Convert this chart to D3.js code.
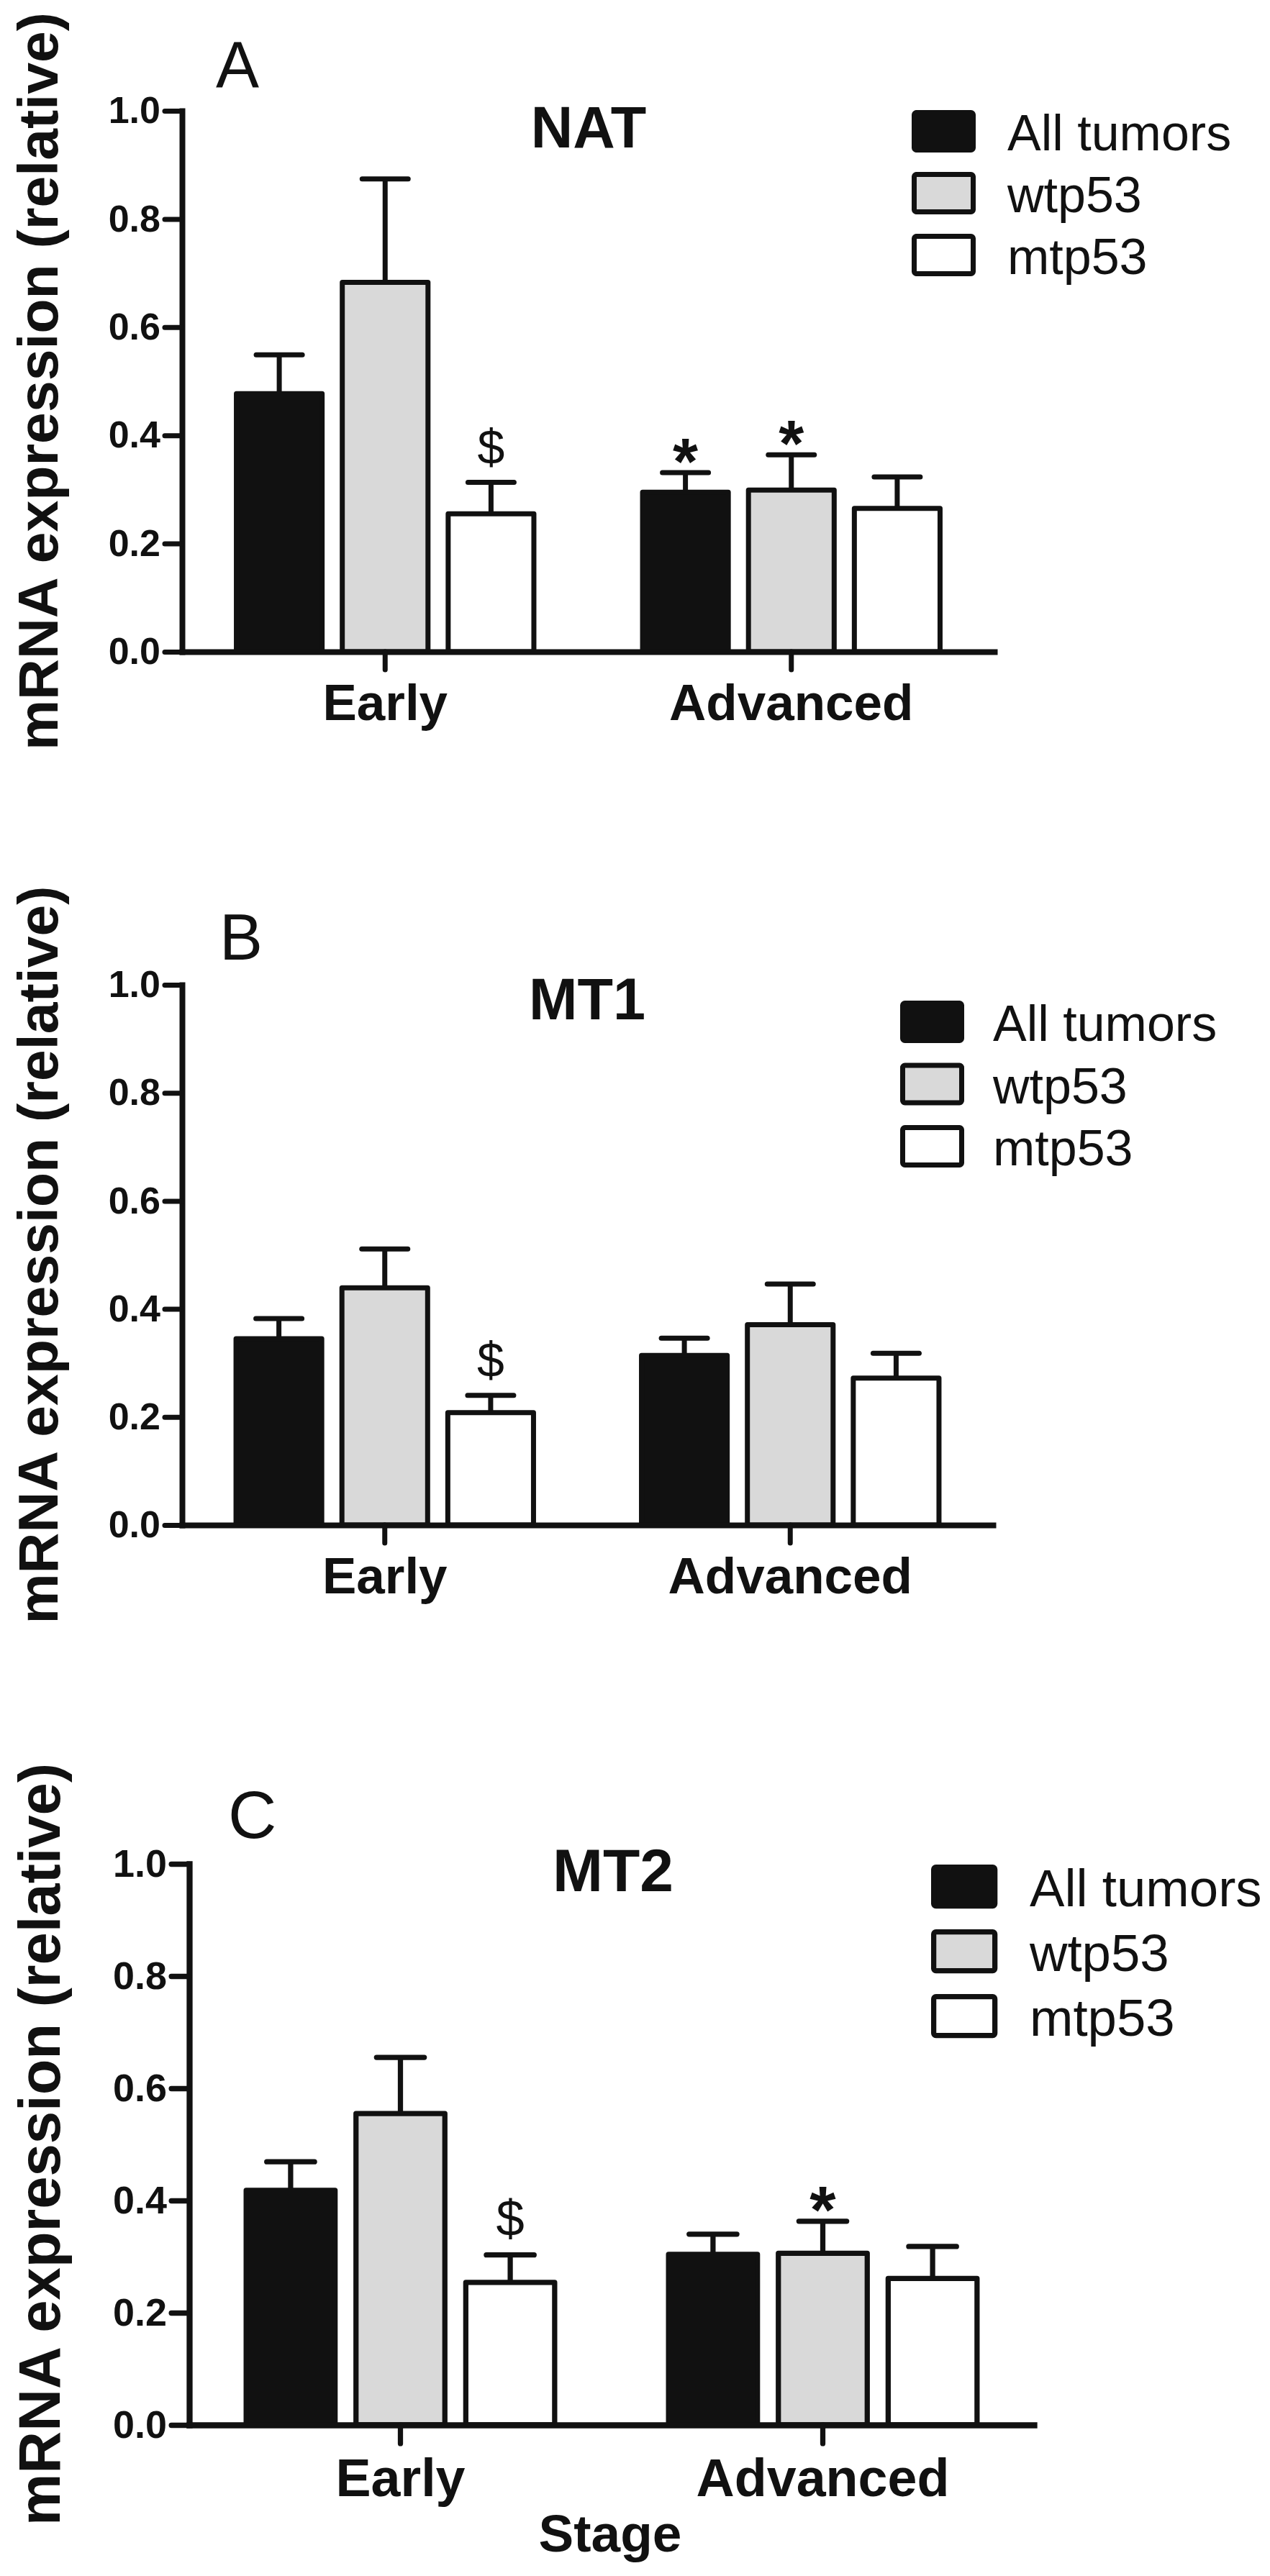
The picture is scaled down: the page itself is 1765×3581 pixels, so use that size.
<!DOCTYPE html>
<html>
<head>
<meta charset="utf-8">
<script src="https://cdn.jsdelivr.net/npm/d3@7"></script>
<style>
  body { margin: 0; background: #fff; }
  text { font-family: "Liberation Sans", Arial, sans-serif; fill: #111; }
</style>
</head>
<body>
<div id="chart"></div>
<script>
// categories and series
var stages = ["Early", "Advanced"];
var groups = ["All tumors", "wtp53", "mtp53"];
var yTicks = [0, 0.2, 0.4, 0.6, 0.8, 1.0];

// NAT (panel A): means and SEM, [Early, Advanced]
var natAll = [0.477, 0.295], natAllSem = [0.072, 0.036];
var natWt  = [0.683, 0.299], natWtSem  = [0.191, 0.065];
var natMt  = [0.255, 0.265], natMtSem  = [0.058, 0.058];
var natMarks = [["", "*"], ["", "*"], ["$", ""]];

// MT1 (panel B)
var mt1All = [0.345, 0.314], mt1AllSem = [0.037, 0.032];
var mt1Wt  = [0.439, 0.371], mt1WtSem  = [0.072, 0.075];
var mt1Mt  = [0.208, 0.272], mt1MtSem  = [0.032, 0.046];
var mt1Marks = [["", ""], ["", ""], ["$", ""]];

// MT2 (panel C)
var mt2All = [0.418, 0.304], mt2AllSem = [0.051, 0.036];
var mt2Wt  = [0.555, 0.306], mt2WtSem  = [0.100, 0.057];
var mt2Mt  = [0.254, 0.261], mt2MtSem  = [0.049, 0.057];
var mt2Marks = [["", ""], ["", "*"], ["$", ""]];

var fills = ["#111111", "#d9d9d9", "#ffffff"];

// layout of the three panels
var panels = [
  { letter: "A", title: "NAT", means: [natAll, natWt, natMt], sems: [natAllSem, natWtSem, natMtSem], marks: natMarks,
    x0: 253, x1: 1382, yTop: 154, yBot: 906, k: 1,
    letterX: 300, letterY: 121, titleX: 818, titleY: 205,
    legX: 1267, legY: 153, legPitch: 86, legTextX: 1400, labelX: 80, labelLen: 1026, stageLabel: false },
  { letter: "B", title: "MT1", means: [mt1All, mt1Wt, mt1Mt], sems: [mt1AllSem, mt1WtSem, mt1MtSem], marks: mt1Marks,
    x0: 253, x1: 1380, yTop: 1369, yBot: 2120, k: 1,
    letterX: 305, letterY: 1334, titleX: 816, titleY: 1417,
    legX: 1251, legY: 1391, legPitch: 86.5, legTextX: 1380, labelX: 80, labelLen: 1026, stageLabel: false },
  { letter: "C", title: "MT2", means: [mt2All, mt2Wt, mt2Mt], sems: [mt2AllSem, mt2WtSem, mt2MtSem], marks: mt2Marks,
    x0: 263, x1: 1437, yTop: 2591, yBot: 3371, k: 1.037,
    letterX: 317, letterY: 2555, titleX: 852, titleY: 2629,
    legX: 1294, legY: 2592, legPitch: 90, legTextX: 1431, labelX: 83, labelLen: 1060, stageLabel: true }
];

var svg = d3.select("#chart").append("svg")
    .attr("width", 1765)
    .attr("height", 3581);

svg.append("rect").attr("width", 1765).attr("height", 3581).attr("fill", "#fff");

function drawPanel(p) {
  var k = p.k;
  var sw = 7 * k;
  var g = svg.append("g");

  var y = d3.scaleLinear().domain([0, 1]).range([p.yBot, p.yTop]);
  var x = d3.scaleBand().domain(stages).range([p.x0, p.x1]).padding(0);
  var step = 147 * k;
  var xSub = d3.scaleBand().domain(groups)
      .range([-step * 1.5 + step * 0.07, step * 1.5 - step * 0.07])
      .paddingInner(0.143);

  // bars + error bars
  groups.forEach(function(grp, gi) {
    stages.forEach(function(st, si) {
      var m = p.means[gi][si];
      var e = m + p.sems[gi][si];
      var cx = x(st) + x.bandwidth() / 2;
      var bx = cx + xSub(grp);
      var bw = xSub.bandwidth();
      var mid = bx + bw / 2;

      // whisker (drawn first, bar covers the part inside)
      g.append("line")
        .attr("x1", mid).attr("x2", mid)
        .attr("y1", y(m)).attr("y2", y(e))
        .attr("stroke", "#111").attr("stroke-width", sw);
      g.append("line")
        .attr("x1", mid - 32 * k).attr("x2", mid + 32 * k)
        .attr("y1", y(e)).attr("y2", y(e))
        .attr("stroke", "#111").attr("stroke-width", sw)
        .attr("stroke-linecap", "round");

      g.append("rect")
        .attr("x", bx + sw / 2)
        .attr("y", y(m))
        .attr("width", bw - sw)
        .attr("height", y(0) - y(m))
        .attr("fill", fills[gi])
        .attr("stroke", "#111")
        .attr("stroke-width", sw)
        .attr("stroke-linejoin", "round");

      var mark = p.marks[gi][si];
      if (mark == "*") {
        g.append("text")
          .attr("x", mid).attr("y", y(e) - 35 * k + 51 * k)
          .attr("text-anchor", "middle")
          .attr("font-size", 90 * k)
          .attr("font-weight", "bold")
          .text("*");
      } else if (mark == "$") {
        g.append("text")
          .attr("x", mid).attr("y", y(e) - 50 * k + 24 * k)
          .attr("text-anchor", "middle")
          .attr("font-size", 68 * k)
          .text("$");
      }
    });
  });

  // y axis
  var yAxis = g.append("g")
      .attr("transform", "translate(" + p.x0 + ",0)")
      .call(d3.axisLeft(y).tickValues(yTicks).tickFormat(d3.format(".1f"))
            .tickSize(24 * k).tickSizeOuter(0).tickPadding(6 * k));
  // x axis
  var xAxis = g.append("g")
      .attr("transform", "translate(0," + p.yBot + ")")
      .call(d3.axisBottom(x).tickSize(25 * k).tickSizeOuter(0).tickFormat(""));

  [yAxis, xAxis].forEach(function(a) {
    a.select(".domain").attr("stroke", "#111").attr("stroke-width", 8 * k)
      .attr("stroke-linecap", "square");
    a.selectAll(".tick line").attr("stroke", "#111").attr("stroke-width", 7 * k)
      .attr("stroke-linecap", "round");
  });
  yAxis.selectAll(".tick text")
    .attr("fill", "#111")
    .attr("font-size", 52 * k)
    .attr("font-weight", "bold")
    .attr("font-family", "Liberation Sans, Arial, sans-serif");

  // category labels
  g.selectAll(".cat").data(stages).enter().append("text")
    .attr("x", function(d) { return x(d) + x.bandwidth() / 2; })
    .attr("y", p.yBot + 95 * k)
    .attr("text-anchor", "middle")
    .attr("font-size", 71 * k)
    .attr("font-weight", "bold")
    .text(function(d) { return d; });

  if (p.stageLabel) {
    g.append("text")
      .attr("x", 848).attr("y", 3547)
      .attr("text-anchor", "middle")
      .attr("font-size", 73)
      .attr("font-weight", "bold")
      .text("Stage");
  }

  // y axis title
  g.append("text")
    .attr("transform", "translate(" + p.labelX + "," + ((p.yTop + p.yBot) / 2) + ") rotate(-90)")
    .attr("text-anchor", "middle")
    .attr("font-size", 78 * k)
    .attr("font-weight", "bold")
    .attr("textLength", p.labelLen)
    .attr("lengthAdjust", "spacingAndGlyphs")
    .text("mRNA expression (relative)");

  // panel letter and title
  g.append("text")
    .attr("x", p.letterX).attr("y", p.letterY)
    .attr("font-size", 90 * k)
    .text(p.letter);
  g.append("text")
    .attr("x", p.titleX).attr("y", p.titleY)
    .attr("text-anchor", "middle")
    .attr("font-size", 81 * k)
    .attr("font-weight", "bold")
    .text(p.title);

  // legend
  groups.forEach(function(grp, gi) {
    var ty = p.legY + gi * p.legPitch;
    g.append("rect")
      .attr("x", p.legX + sw / 2).attr("y", ty + sw / 2)
      .attr("width", 89 * k - sw).attr("height", 59 * k - sw)
      .attr("rx", 3).attr("ry", 3)
      .attr("fill", fills[gi])
      .attr("stroke", "#111").attr("stroke-width", sw);
    g.append("text")
      .attr("x", p.legTextX).attr("y", ty + 56 * k)
      .attr("font-size", 70 * k)
      .text(grp);
  });
}

panels.forEach(drawPanel);
</script>
</body>
</html>
